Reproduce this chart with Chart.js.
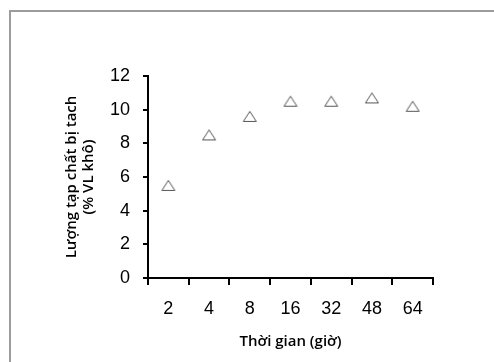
<!DOCTYPE html>
<html>
<head>
<meta charset="utf-8">
<script src="https://cdn.jsdelivr.net/npm/chart.js@4"></script>
<style>
  html, body { margin:0; padding:0; background:#fff; }
  #wrap { position:relative; width:494px; height:362px; overflow:hidden; }
  #frame { position:absolute; left:9px; top:10px; width:600px; height:600px;
           border-left:2px solid #9c9c9c; border-top:2px solid #9c9c9c; }
  #c { position:absolute; left:0; top:0; }
</style>
</head>
<body>
<div id="wrap">
  <div id="frame"></div>
  <canvas id="c" width="494" height="362"></canvas>
</div>
<script>
// Thời gian (giờ) vs lượng tạp chất bị tách
const hours = ['2','4','8','16','32','48','64'];
const removed = [5.5, 8.5, 9.6, 10.5, 10.5, 10.7, 10.2];
const yTicks = [0, 2, 4, 6, 8, 10, 12];

const yTitle = ['Lượng tạp chất bị tach', '(% VL khô)'];
const xTitle = 'Thời gian (giờ)';

const TICK_FONT = { family:'Liberation Sans, Arial, sans-serif', size:18 };
const TITLE_FONT = { family:'Open Sans, sans-serif', size:15, weight:'600', lineHeight:'17px' };

// open triangle marker, centred on its bounding box like the original
function triangleMarker(){
  const cv = document.createElement('canvas');
  cv.width = 16; cv.height = 13;
  const g = cv.getContext('2d');
  g.strokeStyle = '#555';
  g.lineWidth = 1;
  g.beginPath();
  g.moveTo(8, 1.5);
  g.lineTo(14.5, 11.5);
  g.lineTo(1.5, 11.5);
  g.closePath();
  g.stroke();
  return cv;
}

Chart.defaults.color = '#000';

new Chart(document.getElementById('c'), {
  type:'line',
  data:{ labels: hours, datasets:[{
    data: removed,
    showLine:false,
    pointStyle: triangleMarker(),
    pointRadius: 7,
    pointHoverRadius: 7,
  }]},
  options:{
    responsive:false, animation:false,
    layout:{ padding:{ left:0, top:76, right:61, bottom:0 } },
    plugins:{ legend:{display:false}, tooltip:{enabled:false} },
    scales:{
      x:{
        offset:true,
        grid:{ offset:true, drawOnChartArea:false, drawTicks:true, tickLength:7, color:'#000', lineWidth:2 },
        border:{ color:'#000', width:2 },
        ticks:{ font:TICK_FONT, color:'#000', padding:13, maxRotation:0 },
        title:{ display:true, text:xTitle, font:TITLE_FONT, color:'#000', padding:{ top:0, bottom:12 } },
        afterFit:(s) => { s.height = 84; },
      },
      y:{
        min:0, max:12,
        afterBuildTicks:(s) => { s.ticks = yTicks.map(v => ({ value:v })); },
        grid:{ drawOnChartArea:false, drawTicks:true, tickLength:5, color:'#000', lineWidth:2 },
        border:{ color:'#000', width:2 },
        ticks:{ font:TICK_FONT, color:'#000', padding:13 },
        title:{ display:true, text:yTitle, font:TITLE_FONT, color:'#000', padding:{ top:63, bottom:0 } },
        afterFit:(s) => { s.width = 148; },
      }
    }
  }
});
</script>
</body>
</html>
